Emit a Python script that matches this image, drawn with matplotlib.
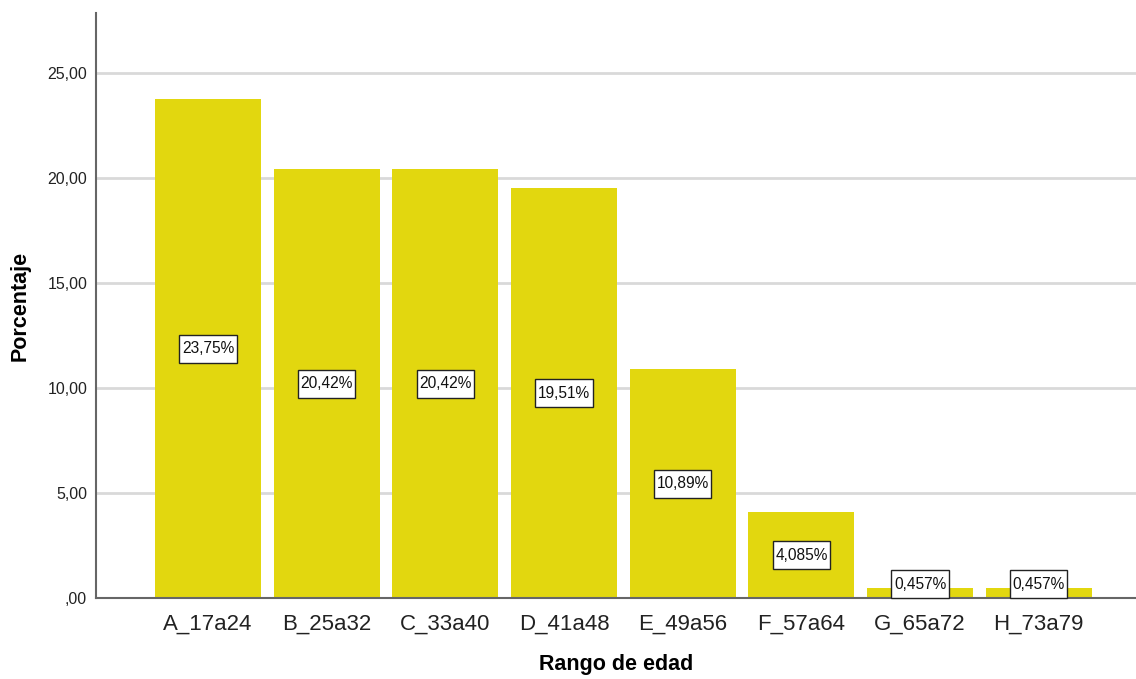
import matplotlib
matplotlib.use("Agg")
import matplotlib.pyplot as plt
from matplotlib.ticker import FuncFormatter
from matplotlib.path import Path

categories = ["A_17a24", "B_25a32", "C_33a40", "D_41a48", "E_49a56", "F_57a64", "G_65a72", "H_73a79"]
values = [23.75, 20.42, 20.42, 19.51, 10.89, 4.085, 0.457, 0.457]
value_labels = ["23,75%", "20,42%", "20,42%", "19,51%", "10,89%", "4,085%", "0,457%", "0,457%"]
yticks = [0, 5, 10, 15, 20, 25]

plt.rcParams['font.family'] = ['Liberation Sans', 'DejaVu Sans']

fig = plt.figure(figsize=(11.36, 6.79), dpi=100)
W, H = 1136, 679
ax = fig.add_axes([95.5 / W, (H - 598) / H, (1136 - 95.5) / W, (598 - 13) / H])

x = list(range(len(categories)))
ax.bar(x, values, width=0.893, color="#E2D70F", zorder=2)


def label_box(x0, y0, width, height, mutation_size):
    px = 0.16 * mutation_size
    py = 0.42 * mutation_size
    xa, ya = x0 - px, y0 - py
    xb, yb = x0 + width + px, y0 + height + py
    return Path([(xa, ya), (xb, ya), (xb, yb), (xa, yb), (xa, ya)],
                [Path.MOVETO, Path.LINETO, Path.LINETO, Path.LINETO, Path.CLOSEPOLY])


for xi, v, lab in zip(x, values, value_labels):
    ypos = max(v / 2, 0.66)
    ax.text(xi, ypos, lab, ha="center", va="center", fontsize=11.2, color="#111111", zorder=4,
            bbox=dict(boxstyle=label_box, facecolor="white", edgecolor="#222222", linewidth=1.0))

ax.set_xlim(-0.948, 7.82)
ax.set_ylim(0, 27.85)
ax.set_yticks(yticks)


def fmt(v, p):
    s = f"{v:.2f}".replace(".", ",")
    return s.lstrip("0") if v == 0 else s


ax.yaxis.set_major_formatter(FuncFormatter(fmt))
ax.set_xticks(x)
ax.set_xticklabels(categories, fontsize=16, color="#222222")
ax.tick_params(axis="y", labelsize=11.5, colors="#222222", length=0, pad=6)
ax.tick_params(axis="x", length=0, pad=11)

ax.grid(axis="y", color="#D9D9D9", linewidth=2, zorder=0)
ax.set_axisbelow(True)
for s in ["top", "right"]:
    ax.spines[s].set_visible(False)
for s in ["left", "bottom"]:
    ax.spines[s].set_color("#666666")
    ax.spines[s].set_linewidth(1.5)
    ax.spines[s].set_zorder(3)

ax.set_ylabel("Porcentaje", fontsize=15.5, fontweight="bold", labelpad=12)
ax.set_xlabel("Rango de edad", fontsize=15.5, fontweight="bold", labelpad=14)

fig.savefig("out.png", dpi=100)
